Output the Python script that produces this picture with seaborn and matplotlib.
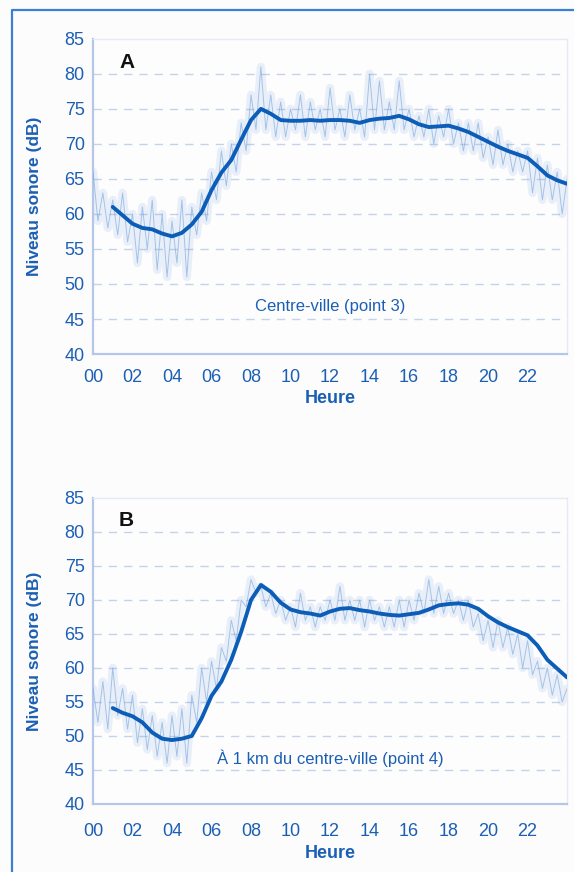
import numpy as np
import pandas as pd
import matplotlib
matplotlib.use("Agg")
import matplotlib.pyplot as plt
from matplotlib.lines import Line2D
import seaborn as sns

# ---- data -------------------------------------------------------------
# raw sound level, one reading every 15 minutes (00:00 .. 24:00)
raw_hours = [i * 0.25 for i in range(97)]

raw_a = [66, 59, 63, 58, 62, 57, 63, 56, 60, 53, 61, 55, 62, 52, 60, 51,
         59, 53, 62, 51, 61, 57, 63, 59, 66, 62, 69, 64, 70, 66, 73, 69,
         77, 72, 81, 72, 77, 71, 76, 71, 75, 72, 77, 71, 76, 72, 75, 71,
         78, 72, 75, 71, 77, 72, 75, 71, 80, 72, 79, 72, 76, 72, 79, 72,
         75, 71, 74, 71, 75, 70, 74, 71, 75, 70, 73, 69, 73, 69, 73, 68,
         71, 67, 72, 67, 70, 66, 69, 66, 69, 63, 68, 62, 67, 62, 66, 60,
         65]

raw_b = [57, 52, 58, 51, 60, 53, 57, 51, 56, 49, 54, 48, 53, 47, 52, 46,
         53, 47, 54, 46, 56, 52, 60, 55, 61, 57, 63, 61, 67, 64, 70, 69,
         73, 71, 72, 69, 71, 68, 70, 67, 69, 66, 71, 67, 69, 66, 69, 67,
         70, 67, 72, 67, 70, 67, 70, 66, 70, 67, 69, 66, 69, 66, 70, 66,
         70, 67, 71, 68, 73, 68, 72, 68, 71, 68, 70, 67, 70, 66, 68, 64,
         67, 63, 67, 63, 66, 62, 65, 60, 64, 59, 61, 57, 60, 56, 59, 55,
         57]

# moving average, every 30 minutes (01:00 .. 24:00)
avg_hours = [1 + i * 0.5 for i in range(47)]

avg_a = [61.0, 59.8, 58.6, 58.0, 57.8, 57.2, 56.8, 57.3, 58.5, 60.3,
         63.4, 65.9, 67.7, 70.6, 73.4, 75.0, 74.3, 73.4, 73.3, 73.3,
         73.4, 73.3, 73.4, 73.4, 73.3, 73.0, 73.4, 73.6, 73.7, 74.0,
         73.5, 72.8, 72.4, 72.5, 72.6, 72.2, 71.7, 71.0, 70.3, 69.6,
         69.0, 68.5, 68.0, 66.8, 65.5, 64.8, 64.3]

avg_b = [54.1, 53.4, 52.9, 52.0, 50.5, 49.6, 49.4, 49.6, 50.0, 52.6,
         55.9, 58.0, 61.2, 65.3, 70.0, 72.2, 71.2, 69.6, 68.6, 68.2,
         68.0, 67.7, 68.3, 68.7, 68.8, 68.5, 68.3, 68.0, 67.8, 67.7,
         67.9, 68.1, 68.6, 69.2, 69.4, 69.5, 69.3, 68.7, 67.6, 66.7,
         66.0, 65.4, 64.8, 63.3, 61.2, 59.9, 58.6]

hour_ticks = list(range(0, 24, 2))
hour_labels = ["00", "02", "04", "06", "08", "10", "12", "14", "16",
               "18", "20", "22"]
db_ticks = [40, 45, 50, 55, 60, 65, 70, 75, 80, 85]

panels = [
    ("A", "Centre-ville (point 3)", raw_a, avg_a),
    ("B", "À 1 km du centre-ville (point 4)", raw_b, avg_b),
]

# ---- style ------------------------------------------------------------
sns.set_style("white")
plt.rcParams["font.family"] = ["Liberation Sans Narrow", "Liberation Sans",
                               "DejaVu Sans"]

BLUE_TXT = "#1b5fb4"
BLUE_AVG = "#0b5db8"
BLUE_RAW = "#6b9edb"
GRID = "#c3d3ec"
AXIS = "#b3c8e8"

fig = plt.figure(figsize=(5.74, 8.72), dpi=100)
fig.patch.set_facecolor("#fdfcfc")

# plot areas in figure fractions (left, bottom, width, height)
boxes = [(0.162, 0.594, 0.826, 0.3615),
         (0.162, 0.078, 0.826, 0.351)]
tick_pads = [8, 11]
label_pads = [3, 4]

for (letter, caption, raw, avg), box, tpad, lpad in zip(panels, boxes,
                                                       tick_pads, label_pads):
    ax = fig.add_axes(box)
    ax.set_facecolor("#fefdfd")

    raw_df = pd.DataFrame({"heure": raw_hours, "db": raw})
    avg_df = pd.DataFrame({"heure": avg_hours, "db": avg})

    # hazy envelope of the raw readings, then the readings themselves
    sns.lineplot(data=raw_df, x="heure", y="db", ax=ax, color=BLUE_RAW,
                 lw=6, alpha=0.14, zorder=2)
    sns.lineplot(data=raw_df, x="heure", y="db", ax=ax, color=BLUE_RAW,
                 lw=0.7, alpha=0.55, zorder=3)
    sns.lineplot(data=avg_df, x="heure", y="db", ax=ax, color=BLUE_AVG,
                 lw=2.8, zorder=4)

    ax.set_xlim(0, 24)
    ax.set_ylim(40, 85)
    ax.set_yticks(db_ticks)
    ax.set_xticks(hour_ticks)
    ax.set_xticklabels(hour_labels)
    ax.set_xticks(range(1, 24), minor=True)

    for v in db_ticks[1:-1]:
        ax.axhline(v, color=GRID, lw=1.0, ls=(0, (6, 5)), zorder=1)

    for side in ["left", "bottom"]:
        ax.spines[side].set_color(AXIS)
        ax.spines[side].set_linewidth(1.6)
    for side in ["top", "right"]:
        ax.spines[side].set_color("#e4ebf6")
        ax.spines[side].set_linewidth(1.0)

    ax.tick_params(axis="both", which="major", labelsize=13,
                   labelcolor=BLUE_TXT, color=AXIS, length=3, width=1.2)
    ax.tick_params(axis="x", which="major", direction="inout", length=5,
                   pad=tpad)
    ax.tick_params(axis="x", which="minor", direction="inout", length=4,
                   color=AXIS, width=1.2)
    ax.tick_params(axis="y", which="major", length=0, pad=6)

    ax.set_xlabel("Heure", fontsize=13, fontweight="bold", color=BLUE_TXT,
                  labelpad=lpad)
    ax.set_ylabel("Niveau sonore (dB)", fontsize=12.5, fontweight="bold",
                  color=BLUE_TXT, labelpad=16)

    ax.text(0.055, 0.925, letter, transform=ax.transAxes, fontsize=15,
            fontweight="bold", color="#111111", ha="left", va="center")
    ax.text(0.5, 0.15, caption, transform=ax.transAxes, fontsize=12,
            color=BLUE_TXT, ha="center", va="center")

# frame line along the left and top of the figure
fx = 12 / 574
fy = 1 - 10 / 872
fig.add_artist(Line2D([fx, fx, 1.0], [0.0, fy, fy], transform=fig.transFigure,
                      color="#3a7fd2", lw=1.6))

fig.savefig("out.png", dpi=100, facecolor=fig.get_facecolor())
